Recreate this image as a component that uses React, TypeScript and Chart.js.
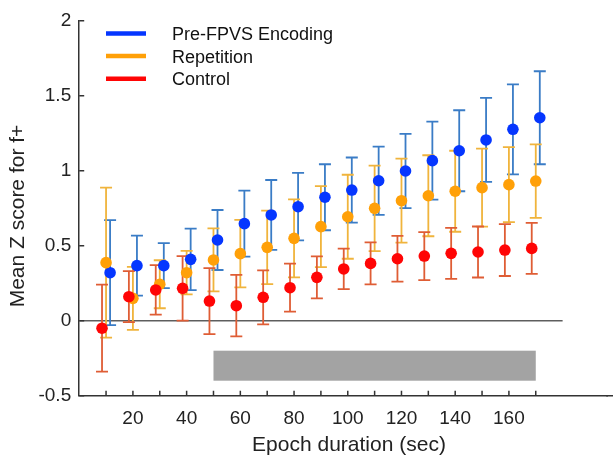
import React, { useEffect, useRef } from 'react';
import { Chart, registerables } from 'chart.js';

Chart.register(...registerables);

// ---- data ----
const epochDurations = [10, 20, 30, 40, 50, 60, 70, 80, 90, 100, 110, 120, 130, 140, 150, 160, 170];
const seriesNames = ['Pre-FPVS Encoding', 'Repetition', 'Control'];

const encodingMean = [0.32, 0.367, 0.367, 0.409, 0.538, 0.647, 0.705, 0.76, 0.823, 0.871, 0.933, 0.998, 1.067, 1.133, 1.205, 1.276, 1.353];
const encodingErr = [0.35, 0.2, 0.15, 0.205, 0.2, 0.22, 0.233, 0.225, 0.22, 0.217, 0.228, 0.247, 0.26, 0.27, 0.28, 0.3, 0.31];

const repetitionMean = [0.387, 0.149, 0.243, 0.32, 0.405, 0.447, 0.489, 0.549, 0.627, 0.693, 0.749, 0.8, 0.833, 0.863, 0.887, 0.907, 0.931];
const repetitionErr = [0.5, 0.21, 0.16, 0.145, 0.21, 0.225, 0.245, 0.26, 0.27, 0.28, 0.285, 0.28, 0.27, 0.27, 0.26, 0.25, 0.245];

const controlMean = [-0.05, 0.16, 0.205, 0.216, 0.131, 0.1, 0.156, 0.22, 0.289, 0.345, 0.382, 0.413, 0.431, 0.449, 0.458, 0.471, 0.482];
const controlErr = [0.29, 0.17, 0.165, 0.215, 0.22, 0.205, 0.18, 0.16, 0.14, 0.135, 0.14, 0.153, 0.16, 0.17, 0.17, 0.173, 0.17];

const xTickValues = [10, 20, 30, 40, 50, 60, 70, 80, 90, 100, 110, 120, 130, 140, 150, 160, 170];
const xTickLabels = ['', '20', '', '40', '', '60', '', '80', '', '100', '', '120', '', '140', '', '160', ''];
const yTickValues = [-0.5, 0, 0.5, 1, 1.5, 2];

const shadeX = [50, 170];
const shadeY = [-0.4, -0.2];
const zeroLineX = [0, 180];

const xTitle = 'Epoch duration (sec)';
const yTitle = 'Mean Z score for f+';

// ---- styles ----
const FONT = '"Liberation Sans", Arial, sans-serif';
const dotColors = ['#0536ff', '#ffa008', '#ff0505'];
const barColors = ['#3a7cc6', '#f0b43c', '#df5d35'];
const xOffsets = [1.5, 0, -1.5];

export default function App() {
  const ref = useRef<HTMLCanvasElement | null>(null);

  useEffect(() => {
    if (!ref.current) return;
    const means = [encodingMean, repetitionMean, controlMean];
    const errs = [encodingErr, repetitionErr, controlErr];

    const makeData = (k: number) =>
      epochDurations.map((d, i) => ({ x: d + xOffsets[k], y: means[k][i], err: errs[k][i] }));

    // draw order: control on top, then repetition, then encoding
    const datasets = [2, 1, 0].map((k) => ({
      label: seriesNames[k],
      data: makeData(k),
      seriesIndex: k,
      showLine: false,
      pointRadius: 5.8,
      pointHoverRadius: 5.8,
      pointBackgroundColor: dotColors[k],
      pointBorderColor: dotColors[k],
      pointBorderWidth: 0,
    }));

    const custom = {
      id: 'custom',
      beforeDatasetsDraw(chart: any) {
        const { ctx, scales } = chart;
        const x = scales.x, y = scales.y;
        ctx.save();
        // shaded bar
        const sx0 = x.getPixelForValue(shadeX[0]);
        const sx1 = x.getPixelForValue(shadeX[1]);
        const sy0 = y.getPixelForValue(shadeY[1]);
        const sy1 = y.getPixelForValue(shadeY[0]);
        ctx.fillStyle = '#a3a3a3';
        ctx.fillRect(sx0, sy0, sx1 - sx0, sy1 - sy0);
        // zero line
        ctx.strokeStyle = '#5e5e5e';
        ctx.lineWidth = 1.5;
        ctx.beginPath();
        ctx.moveTo(x.getPixelForValue(zeroLineX[0]), y.getPixelForValue(0));
        ctx.lineTo(x.getPixelForValue(zeroLineX[1]), y.getPixelForValue(0));
        ctx.stroke();
        // error bars (encoding first, then repetition, then control)
        const order = [2, 1, 0];
        order.forEach((di) => {
          const ds = chart.data.datasets[di];
          const k = ds.seriesIndex;
          ctx.strokeStyle = barColors[k];
          ctx.lineWidth = 1.8;
          ds.data.forEach((p: any) => {
            const px = x.getPixelForValue(p.x);
            const pt = y.getPixelForValue(p.y + p.err);
            const pb = y.getPixelForValue(p.y - p.err);
            ctx.beginPath();
            ctx.moveTo(px, pt);
            ctx.lineTo(px, pb);
            ctx.moveTo(px - 6, pt);
            ctx.lineTo(px + 6, pt);
            ctx.moveTo(px - 6, pb);
            ctx.lineTo(px + 6, pb);
            ctx.stroke();
          });
        });
        ctx.restore();
      },
      afterDraw(chart: any) {
        const { ctx, scales, chartArea } = chart;
        const x = scales.x, y = scales.y;
        ctx.save();
        // inward ticks
        ctx.strokeStyle = '#333';
        ctx.lineWidth = 1.5;
        ctx.beginPath();
        xTickValues.forEach((v) => {
          const px = x.getPixelForValue(v);
          ctx.moveTo(px, chartArea.bottom);
          ctx.lineTo(px, chartArea.bottom - 5);
        });
        yTickValues.forEach((v) => {
          const py = y.getPixelForValue(v);
          ctx.moveTo(chartArea.left, py);
          ctx.lineTo(chartArea.left + 5, py);
        });
        // axis line runs on to the picture's right edge
        ctx.moveTo(chartArea.right - 1, chartArea.bottom);
        ctx.lineTo(chart.width, chartArea.bottom);
        ctx.stroke();

        // legend
        ctx.lineWidth = 4.5;
        ctx.font = `18px ${FONT}`;
        ctx.textBaseline = 'middle';
        ctx.textAlign = 'left';
        seriesNames.forEach((name, k) => {
          const ly = 33.5 + k * 22.6;
          ctx.strokeStyle = dotColors[k];
          ctx.beginPath();
          ctx.moveTo(106, ly);
          ctx.lineTo(146, ly);
          ctx.stroke();
          ctx.fillStyle = '#111';
          ctx.fillText(name, 172, ly + 1.5);
        });

        // axis titles
        ctx.fillStyle = '#222';
        ctx.font = `21px ${FONT}`;
        ctx.textAlign = 'center';
        ctx.textBaseline = 'middle';
        ctx.fillText(xTitle, 349, 445);
        ctx.translate(18.5, 216);
        ctx.rotate(-Math.PI / 2);
        ctx.fillText(yTitle, 0, 0);
        ctx.restore();
      },
    };

    const chart = new Chart(ref.current, {
      type: 'scatter',
      data: { datasets: datasets as any },
      options: {
        animation: false,
        responsive: false,
        maintainAspectRatio: false,
        events: [],
        layout: { padding: { top: 20.7, right: 0, left: 0, bottom: 0 } },
        plugins: { legend: { display: false }, tooltip: { enabled: false } },
        scales: {
          x: {
            type: 'linear',
            min: 0,
            max: 196.6,
            grid: { display: false, drawTicks: false },
            border: { display: true, color: '#333', width: 1.5 },
            afterBuildTicks: (s: any) => {
              s.ticks = xTickValues.map((v) => ({ value: v }));
            },
            afterFit: (s: any) => {
              s.height = 59.3;
              s.paddingLeft = 0;
              s.paddingRight = 0;
            },
            ticks: {
              autoSkip: false,
              maxRotation: 0,
              padding: 12,
              color: '#222',
              font: { family: FONT, size: 19 },
              callback: (_v: any, i: number) => xTickLabels[i],
            },
          },
          y: {
            type: 'linear',
            min: -0.5,
            max: 2,
            grid: { display: false, drawTicks: false },
            border: { display: true, color: '#333', width: 1.5 },
            afterBuildTicks: (s: any) => {
              s.ticks = yTickValues.map((v) => ({ value: v }));
            },
            afterFit: (s: any) => {
              s.width = 79.2;
              s.paddingTop = 0;
              s.paddingBottom = 0;
            },
            ticks: {
              padding: 8,
              color: '#222',
              font: { family: FONT, size: 19 },
              callback: (v: any) => String(v),
            },
          },
        },
      },
      plugins: [custom],
    });
    return () => chart.destroy();
  }, []);

  return (
    <div style={{ position: 'fixed', left: 0, top: 0, width: 613, height: 455, background: '#fff' }}>
      <canvas ref={ref} width={613} height={455} style={{ width: 613, height: 455, display: 'block' }} />
    </div>
  );
}
